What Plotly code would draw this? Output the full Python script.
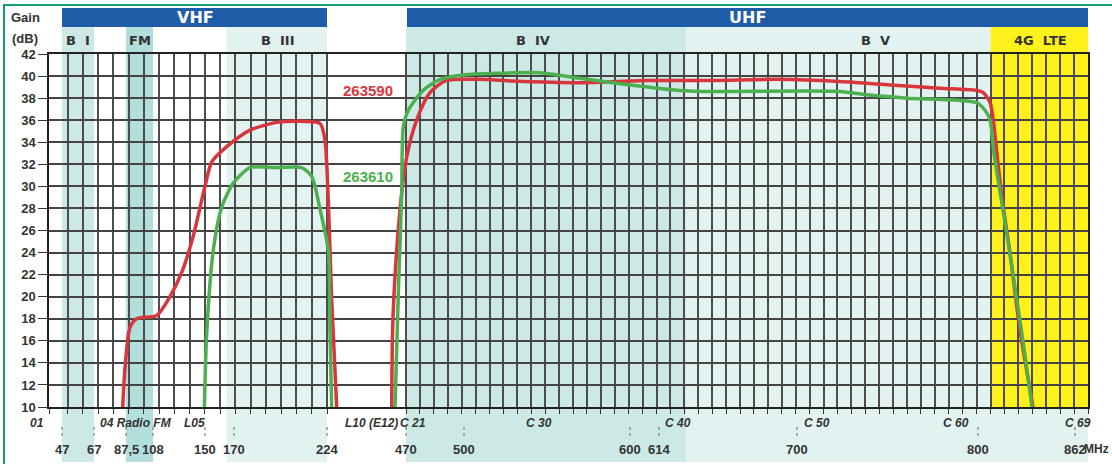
import numpy as np
import plotly.graph_objects as go

# ---------------- data ----------------
# Gain curves (frequency in MHz, gain in dB)
R_VHF_F = [85.4, 86.9, 90.5, 95.6, 111.0, 121.7, 131.2, 140.3, 150.0, 154.6, 165.0, 179.3, 194.8, 206.4, 220.0, 222.8, 228.0, 238.6, 254.2]
R_VHF_G = [10, 13.6, 17.2, 18.0, 18.3, 20, 22.2, 25.4, 30, 32.2, 33.6, 35.1, 35.8, 35.9, 35.7, 34.2, 28.8, 19.7, 10]
R_UHF_F = [425.5, 428.6, 438.9, 456.6, 470.4, 475.5, 482.4, 491.0, 509.6, 529.5, 569.8, 608.2, 647.6, 689.4, 723.7, 751.3, 778.9, 799.2, 803.4, 807.7, 809.8, 812.1, 815.3, 820.4, 826.8, 835.2]
R_UHF_G = [10, 17.3, 23.3, 29.4, 32.7, 36.0, 38.5, 39.6, 39.7, 39.55, 39.4, 39.6, 39.6, 39.7, 39.5, 39.2, 38.9, 38.7, 38.5, 37.6, 36.0, 33.0, 29.0, 24.0, 17.0, 10]

G_VHF_F = [149.5, 151.2, 155.7, 161.5, 169.5, 179.3, 194.8, 209.3, 215.1, 220.0, 228.0, 233.3, 238.6]
G_VHF_G = [10, 16.7, 24.2, 28.1, 30.3, 31.7, 31.7, 31.7, 30.9, 27.9, 24.2, 16.7, 10]
G_UHF_F = [435.8, 446.1, 456.6, 461.6, 471.2, 478.9, 487.6, 499.6, 519.7, 545.8, 569.8, 600.0, 627.1, 647.6, 723.7, 738.5, 760.6, 799.2, 804.5, 807.7, 810.2, 814.1, 819.2, 825.6, 830.7, 834.5]
G_UHF_G = [10, 20.3, 29.4, 35.4, 36.9, 38.7, 39.7, 40.1, 40.25, 40.3, 39.8, 39.2, 38.7, 38.6, 38.6, 38.3, 38.0, 37.6, 36.9, 36.0, 33.0, 29.5, 25.0, 19.0, 14.0, 10]

SERIES_NAMES = ["263590", "263610"]

# Frequency tick labels
FREQ_TICKS = [47, 67, 87.5, 108, 150, 170, 224, 470, 500, 600, 614, 700, 800, 862]
FREQ_LABELS = ["47", "67", "87,5", "108", "150", "170", "224", "470", "500", "600", "614", "700", "800", "862"]

# Channel labels (text, approx. frequency in MHz)
CH_LABELS = ["01", "04 Radio FM", "L05", "L10 (E12)", "C 21", "C 30", "C 40", "C 50", "C 60", "C 69"]
CH_FREQ = [None, 95.1, 141.9, 364.0, 473.6, 545.2, 625.8, 711.0, 787.8, 863.8]

# Bands (name, MHz range)
BAND_NAMES = ["B I", "FM", "B III", "B IV", "B V", "4G LTE"]
BAND_FROM = [47, 87.5, 165, 470, 631, 808]
BAND_TO = [67, 108, 224, 631, 870, 870]
RANGE_NAMES = ["VHF", "UHF"]
RANGE_FROM = [47, 470]
RANGE_TO = [224, 870]

Y_TICKS = list(range(10, 43, 2))

# ---------------- non-linear frequency scale (MHz -> axis position) ----------------
FREQ_ANCHOR = [40, 47, 67, 87.5, 108, 150, 170, 224, 470, 500, 600, 614, 700, 800, 862, 870]
POS_ANCHOR = [49, 62, 94, 126, 153, 205, 234, 327, 406, 464, 630, 659, 797, 978, 1075, 1088]


def fpos(f):
    return float(np.interp(f, FREQ_ANCHOR, POS_ANCHOR))


W, H = 1112, 464
ML, MR, MT, MB = 49, 24, 54, 57
PH = H - MT - MB


def py(p):  # pixel row -> paper y
    return (H - MB - p) / PH


def px(p):  # pixel column -> paper x
    return (p - ML) / (W - ML - MR)


# grid positions (channel raster)
grid_vhf = [49] + list(np.linspace(67.7, 327, 18))
grid_uhf = list(np.linspace(406, 1088, 50))
grid = grid_vhf + grid_uhf

RED = "#d8363d"
GREEN = "#4caf50"
TXT = "#333333"

fig = go.Figure()

band_colors = ["#cde9e6", "#b2dedb", "#e1f2f0", "#cce9e6", "#e1f2f0", "#fff21c"]
shapes = []
for i, name in enumerate(BAND_NAMES):
    y1 = py(27)
    y0 = py(462) if name != "4G LTE" else py(407)
    shapes.append(dict(type="rect", xref="x", yref="paper", x0=fpos(BAND_FROM[i]), x1=fpos(BAND_TO[i]),
                       y0=y0, y1=y1, fillcolor=band_colors[i], line=dict(width=0), layer="below"))
for i, name in enumerate(RANGE_NAMES):
    shapes.append(dict(type="rect", xref="x", yref="paper", x0=fpos(RANGE_FROM[i]) + (1 if i else 0), x1=fpos(RANGE_TO[i]),
                       y0=py(27), y1=py(8), fillcolor="#1f5ca8", line=dict(width=0), layer="below"))
# dashed frequency markers
for f in FREQ_TICKS:
    shapes.append(dict(type="line", xref="x", yref="paper", x0=fpos(f), x1=fpos(f), y0=py(427), y1=py(439),
                       line=dict(color="#666", width=1, dash="dot"), layer="above"))
# green frame
shapes.append(dict(type="line", xref="paper", yref="paper", x0=px(3), x1=px(1112), y0=py(5), y1=py(5),
                   line=dict(color="#12a070", width=2)))
shapes.append(dict(type="line", xref="paper", yref="paper", x0=px(4), x1=px(4), y0=py(4), y1=py(464),
                   line=dict(color="#12a070", width=2)))

fig.add_trace(go.Scatter(x=[fpos(f) for f in R_VHF_F] + [None] + [fpos(f) for f in R_UHF_F],
                         y=R_VHF_G + [None] + R_UHF_G, mode="lines", name=SERIES_NAMES[0],
                         line=dict(color=RED, width=3.5, shape="spline", smoothing=0.7),
                         connectgaps=False, hoverinfo="skip"))
fig.add_trace(go.Scatter(x=[fpos(f) for f in G_VHF_F] + [None] + [fpos(f) for f in G_UHF_F],
                         y=G_VHF_G + [None] + G_UHF_G, mode="lines", name=SERIES_NAMES[1],
                         line=dict(color=GREEN, width=3.5, shape="spline", smoothing=0.7),
                         connectgaps=False, hoverinfo="skip"))

ann = []


def add_text(text, x, ypx, font, xref="x", xanchor="center"):
    ann.append(dict(text=text, x=x, y=py(ypx), xref=xref, yref="paper", showarrow=False,
                    xanchor=xanchor, yanchor="middle", font=font))


bold = dict(family="Liberation Sans", size=13, color=TXT, weight="bold")
add_text("Gain", px(25), 18, bold, xref="paper")
add_text("(dB)", px(25), 38, bold, xref="paper")
for i, name in enumerate(RANGE_NAMES):
    add_text(name, [195, 747][i], 17, dict(family="DejaVu Sans", size=16, color="white", weight="bold"))
band_label_x = [78, 140, 277, 533, 875, 1040]
for i, name in enumerate(BAND_NAMES):
    add_text(name.replace(" ", "&nbsp;&nbsp;"), band_label_x[i], 41,
             dict(family="DejaVu Sans", size=13, color=TXT, weight="bold"))
ch_font = dict(family="Liberation Sans", size=12, color=TXT, weight="bold")
for t, f in zip(CH_LABELS, CH_FREQ):
    if f is None:
        add_text("<i>" + t + "</i>", px(37), 423, ch_font, xref="paper")
    else:
        add_text("<i>" + t + "</i>", fpos(f), 423, ch_font)
for t, f in zip(FREQ_LABELS, FREQ_TICKS):
    add_text(t, fpos(f), 449, dict(family="Liberation Sans", size=13, color=TXT, weight="bold"))
add_text("MHz", px(1111), 449, dict(family="Liberation Sans", size=12, color=TXT, weight="bold"),
         xref="paper", xanchor="right")
add_text(SERIES_NAMES[0], 368, 91, dict(family="Liberation Sans Narrow, Liberation Sans", size=15, color=RED, weight="bold"))
add_text(SERIES_NAMES[1], 368, 176, dict(family="Liberation Sans Narrow, Liberation Sans", size=15, color=GREEN, weight="bold"))

fig.update_layout(
    width=W, height=H, margin=dict(l=ML, r=MR, t=MT, b=MB),
    paper_bgcolor="white", plot_bgcolor="rgba(0,0,0,0)",
    showlegend=False, shapes=shapes, annotations=ann,
    xaxis=dict(range=[49, 1088], tickvals=grid, showticklabels=False, ticks="outside", ticklen=5,
               tickcolor="#333", showgrid=True, gridcolor="#4d4d4d", gridwidth=1.5, zeroline=False,
               showline=True, linecolor="#222", linewidth=1.5, mirror=True, fixedrange=True),
    yaxis=dict(range=[10, 42], tickvals=Y_TICKS, ticks="outside", ticklen=9, tickcolor="#333",
               tickfont=dict(family="Liberation Sans", size=13, color=TXT, weight="bold"),
               showgrid=True, gridcolor="#444", gridwidth=1.5, zeroline=False,
               showline=True, linecolor="#222", linewidth=1.5, mirror=True, fixedrange=True),
)

fig.write_html("out.html", config={"displayModeBar": False},
               post_script="document.body.style.margin='0';document.body.style.overflow='hidden';")
